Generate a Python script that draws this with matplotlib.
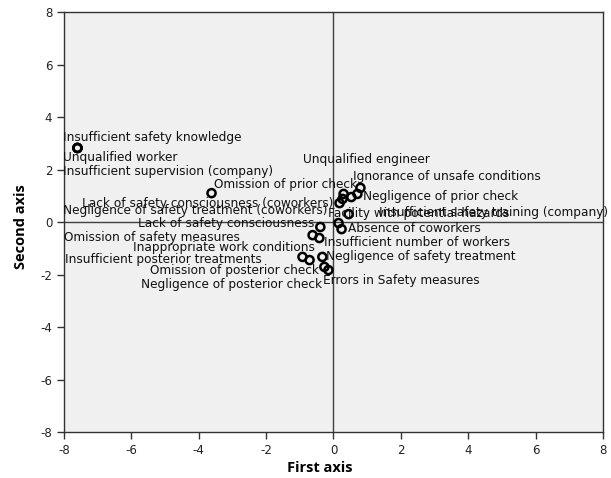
import matplotlib
matplotlib.use("Agg")
import matplotlib.pyplot as plt

plt.rcParams["axes.unicode_minus"] = False

# Correspondence analysis: coordinates of each accident factor on the first two axes
factors = [
    "Insufficient safety knowledge",
    "Unqualified worker",
    "Insufficient supervision (company)",
    "Omission of prior check",
    "Lack of safety consciousness (coworkers)",
    "Negligence of safety treatment (coworkers)",
    "Lack of safety consciousness",
    "Omission of safety measures",
    "Inappropriate work conditions",
    "Insufficient posterior treatments",
    "Omission of posterior check",
    "Negligence of posterior check",
    "Unqualified engineer",
    "Ignorance of unsafe conditions",
    "Negligence of prior check",
    "Facility with potential hazards",
    "Insufficient safety training (company)",
    "Absence of coworkers",
    "Insufficient number of workers",
    "Negligence of safety treatment",
    "Errors in Safety measures",
]
first_axis = [-7.60, -7.60, -7.60, -3.62, 0.27, 0.18, -0.39, -0.62, -0.71, -0.92,
              -0.27, -0.15, 0.30, 0.80, 0.71, 0.45, 0.53, 0.15, -0.42, -0.33, 0.24]
second_axis = [2.82, 2.82, 2.82, 1.10, 0.88, 0.72, -0.19, -0.50, -1.45, -1.33,
               -1.71, -1.83, 1.07, 1.30, 1.07, 0.30, 0.95, -0.04, -0.61, -1.33, -0.27]
tick_values = [-8, -6, -4, -2, 0, 2, 4, 6, 8]

# Label placement: (dx, dy) in pixels from the point, horizontal alignment
label_layout = [
    (-14, 10, "left"), (-14, -10, "left"), (-14, -24, "left"), (2, 9, "left"),
    (-9, -5, "right"), (-12, -7, "right"), (-6, 3, "right"), (-249, -2, "left"),
    (5, 13, "right"), (-237, -3, "left"), (-5, -4, "right"), (-6, -14, "right"),
    (-41, 34, "left"), (-7, 11, "left"), (6, -3, "left"), (-21, 1, "left"),
    (28, -15, "left"), (9, -5, "left"), (5, -4, "left"), (4, 0, "left"),
    (-19, -51, "left"),
]

fig = plt.figure(figsize=(6.11, 4.78), dpi=100)
ax = fig.add_axes([0.1047, 0.0962, 0.8822, 0.8787])
ax.set_facecolor("#F0F0F0")

ax.axhline(0, color="#404040", lw=1.0, zorder=1)
ax.axvline(0, color="#404040", lw=1.0, zorder=1)

ax.scatter(first_axis, second_axis, s=34, facecolors="none",
           edgecolors="black", linewidths=1.8, zorder=3)

for name, x, y, (dx, dy, ha) in zip(factors, first_axis, second_axis, label_layout):
    ax.annotate(name, (x, y), xytext=(dx, dy), textcoords="offset pixels",
                ha=ha, va="center", fontsize=8.7, color="#111111",
                family="DejaVu Sans", zorder=4)

ax.set_xlim(-8, 8)
ax.set_ylim(-8, 8)
ax.set_xticks(tick_values)
ax.set_yticks(tick_values)
ax.tick_params(direction="out", length=5, width=1, colors="#333333",
               labelsize=8.5, labelcolor="#222222")
for sp in ax.spines.values():
    sp.set_color("#333333")
    sp.set_linewidth(1.0)

ax.set_xlabel("First axis", fontsize=10.5, fontweight="bold", family="Open Sans")
ax.set_ylabel("Second axis", fontsize=10.5, fontweight="bold", family="Open Sans")
ax.xaxis.set_label_coords(0.475, -0.07)
ax.yaxis.set_label_coords(-0.066, 0.49)

fig.savefig("out.png", dpi=100)
